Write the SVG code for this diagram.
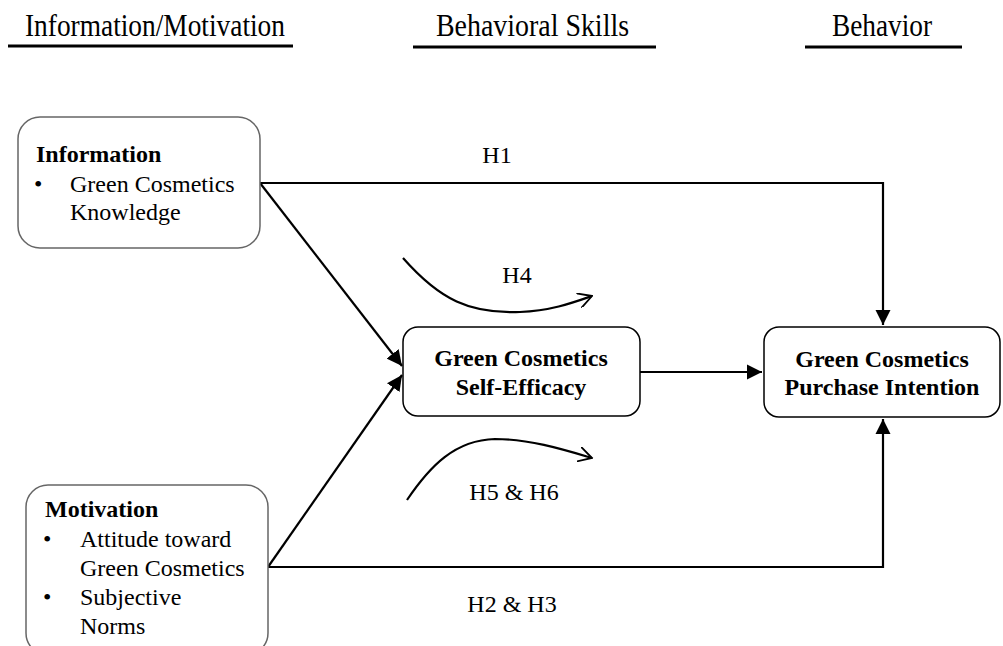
<svg xmlns="http://www.w3.org/2000/svg" width="1003" height="646" viewBox="0 0 1003 646">
<style>
.hdr{font-family:"Liberation Serif","Times New Roman",serif;font-size:31px;fill:#000}
.t{font-family:"Liberation Serif","Times New Roman",serif;font-size:24px;fill:#000}
.b{font-family:"Liberation Serif","Times New Roman",serif;font-size:24px;font-weight:bold;fill:#000}
.ul{stroke:#000;stroke-width:3}
.box{fill:#fff;stroke:#000;stroke-width:1.5}
.gbox{fill:#fff;stroke:#666;stroke-width:1.5}
.c{fill:none;stroke:#000;stroke-width:2.2}
.cv{fill:none;stroke:#000;stroke-width:2.2}
</style>
<defs>
<marker id="ah" viewBox="0 0 10 10" refX="10" refY="5" markerWidth="7" markerHeight="7" markerUnits="strokeWidth" orient="auto">
<path d="M0,0 L10,5 L0,10 z" fill="#000"/>
</marker>
<marker id="oa" viewBox="0 0 10 10" refX="9" refY="5" markerWidth="7" markerHeight="7" markerUnits="strokeWidth" orient="auto">
<path d="M0,0 L9,5 L0,10" fill="none" stroke="#000" stroke-width="1.2"/>
</marker>
</defs>
<rect width="1003" height="646" fill="#fff"/>
<g id="headers">
<text class="hdr" x="25" y="36" textLength="260" lengthAdjust="spacingAndGlyphs">Information/Motivation</text>
<line class="ul" x1="8" y1="46" x2="293" y2="46"/>
<text class="hdr" x="436" y="36" textLength="193" lengthAdjust="spacingAndGlyphs">Behavioral Skills</text>
<line class="ul" x1="413" y1="47" x2="656" y2="47"/>
<text class="hdr" x="832" y="36" textLength="100" lengthAdjust="spacingAndGlyphs">Behavior</text>
<line class="ul" x1="805" y1="47" x2="962" y2="47"/>
</g>
<g id="connectors">
<path class="c" d="M260,183 H883 V325" marker-end="url(#ah)"/>
<path class="c" d="M268,567 H883 V419" marker-end="url(#ah)"/>
<path class="c" d="M260,183 L402,366" marker-end="url(#ah)"/>
<path class="c" d="M268,567 L402,375" marker-end="url(#ah)"/>
<path class="c" d="M640,372 H762" marker-end="url(#ah)"/>
<path class="cv" d="M403,258 C440,300 470,314 520,312 C550,311 572,303 592,296" marker-end="url(#oa)"/>
<path class="cv" d="M407,500 C430,466 455,440 495,439 C530,439 565,450 592,458" marker-end="url(#oa)"/>
</g>
<g id="labels">
<text class="t" x="497" y="163" text-anchor="middle">H1</text>
<text class="t" x="517" y="283" text-anchor="middle">H4</text>
<text class="t" x="514" y="500" text-anchor="middle">H5 &amp; H6</text>
<text class="t" x="512" y="612" text-anchor="middle">H2 &amp; H3</text>
</g>
<g id="information">
<rect class="gbox" x="18" y="117" width="242" height="131" rx="22"/>
<text class="b" x="36" y="162">Information</text>
<text class="t" x="34" y="192">•</text>
<text class="t" x="70" y="192">Green Cosmetics</text>
<text class="t" x="70" y="220">Knowledge</text>
</g>
<g id="motivation">
<rect class="gbox" x="26" y="485" width="242" height="170" rx="22"/>
<text class="b" x="45" y="517">Motivation</text>
<text class="t" x="43" y="547">•</text>
<text class="t" x="80" y="547">Attitude toward</text>
<text class="t" x="80" y="576">Green Cosmetics</text>
<text class="t" x="43" y="605">•</text>
<text class="t" x="80" y="605">Subjective</text>
<text class="t" x="80" y="634">Norms</text>
</g>
<g id="self-efficacy">
<rect class="box" x="403" y="327" width="237" height="89" rx="15"/>
<text class="b" x="521" y="366" text-anchor="middle">Green Cosmetics</text>
<text class="b" x="521" y="395" text-anchor="middle">Self-Efficacy</text>
</g>
<g id="purchase-intention">
<rect class="box" x="764" y="327" width="236" height="90" rx="15"/>
<text class="b" x="882" y="367" text-anchor="middle">Green Cosmetics</text>
<text class="b" x="882" y="395" text-anchor="middle">Purchase Intention</text>
</g>
</svg>
